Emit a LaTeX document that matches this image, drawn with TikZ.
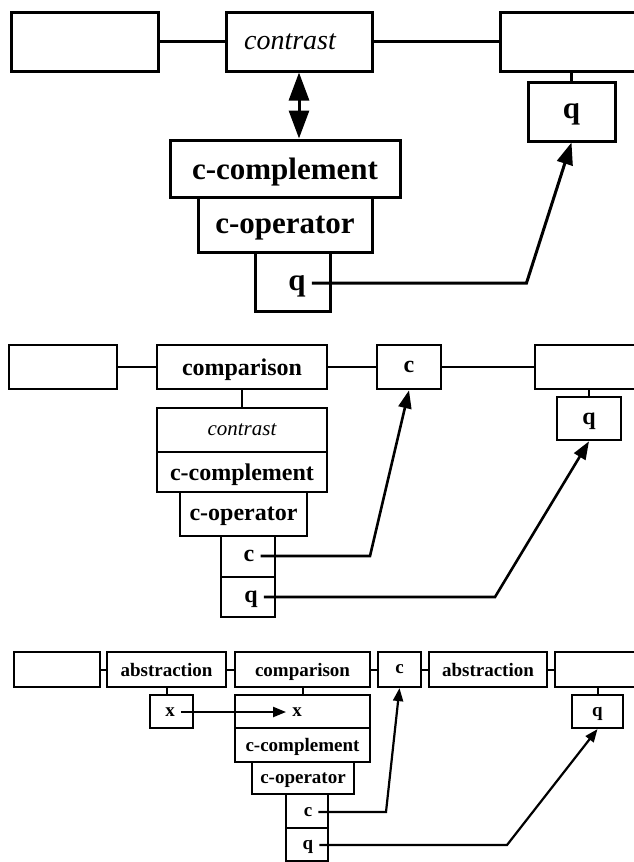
\documentclass[tikz,border=0pt]{standalone}
\usepackage{fontspec}
\setmainfont{Liberation Serif}
\usepackage{tikz}
\usetikzlibrary{arrows.meta}
\newcommand{\fsTop}{\fontsize{31}{33}\selectfont\bfseries}
\newcommand{\fsTopIt}{\fontsize{28}{30}\selectfont\mdseries\itshape}
\newcommand{\fsMid}{\fontsize{24}{26}\selectfont\bfseries}
\newcommand{\fsMidIt}{\fontsize{21}{23}\selectfont\mdseries\itshape}
\newcommand{\fsLow}{\fontsize{19}{21}\selectfont\bfseries}
\tikzstyle{topbox} = [rectangle, draw=black, fill=white, line width=3pt, inner sep=0pt, text depth=0pt, font=\fsTop]
\tikzstyle{midbox} = [rectangle, draw=black, fill=white, line width=2.6pt, inner sep=0pt, text depth=0pt, font=\fsMid]
\tikzstyle{lowbox} = [rectangle, draw=black, fill=white, line width=2.2pt, inner sep=0pt, text depth=0pt, font=\fsLow]
\tikzstyle{toplab} = [inner sep=6pt, text depth=0pt, font=\fsTop]
\tikzstyle{midlab} = [inner sep=6pt, text depth=0pt, font=\fsMid]
\tikzstyle{lowlab} = [inner sep=6pt, text depth=0pt, font=\fsLow]
\tikzstyle{link} = [line width=2.4pt]
\tikzstyle{lowlink} = [line width=2pt]
\tikzstyle{toparrow} = [line width=3pt, -{Triangle[length=22pt,width=16pt]}]
\tikzstyle{dblarrow} = [line width=3pt, {Triangle[length=28pt,width=20pt]}-{Triangle[length=28pt,width=20pt]}]
\tikzstyle{midarrow} = [line width=2.6pt, -{Triangle[length=18pt,width=13pt]}]
\tikzstyle{lowarrow} = [line width=2.2pt, -{Triangle[length=13pt,width=10pt]}]

\begin{document}
\begin{tikzpicture}[x=1pt, y=-1pt]
\useasboundingbox (0,0) rectangle (634,862);
\fill[white] (0,0) rectangle (634,862);
\clip (0,0) rectangle (634,862);

% top panel
\node (tL) [topbox, minimum width=147pt, minimum height=59pt] at (84.5,41.5) {};
\node (tcon) [topbox, minimum width=146pt, minimum height=59pt, font=\fsTopIt] at (299,41.5) {contrast\rule{18pt}{0pt}};
\node (tR) [topbox, minimum width=160pt, minimum height=59pt] at (580,41.5) {};
\node (tq) [topbox, minimum width=87pt, minimum height=59pt] at (571.5,111.5) {q};
\node (tcc) [topbox, minimum width=230pt, minimum height=57pt] at (285,168.5) {c-complement};
\node (tco) [topbox, minimum width=174pt, minimum height=55pt] at (285,224.5) {c-operator};
\node (tqcell) [topbox, minimum width=75pt, minimum height=59pt] at (292.5,281.5) {};
\node (tqlab) [toplab] at (297,283) {q};

\draw [link] (tL) -- (tcon);
\draw [link] (tcon) -- (tR);
\draw [link] (tq.north |- tR.south) -- (tq.north);
\draw [dblarrow] (tcon.south) -- (tcon.south |- tcc.north);
\draw [toparrow] (tqlab.east) -- (tqlab.east -| tq.west) -- (tq.south);

% middle panel
\node (mL) [midbox, minimum width=108pt, minimum height=44pt] at (63,367) {};
\node (mcmp) [midbox, minimum width=170pt, minimum height=44pt] at (242,367) {comparison};
\node (mc) [midbox, minimum width=64pt, minimum height=44pt] at (409,367) {c};
\node (mR) [midbox, minimum width=125pt, minimum height=44pt] at (597.5,367) {};
\node (mq) [midbox, minimum width=64pt, minimum height=43pt] at (589,418.5) {q};
\node (mcon) [midbox, minimum width=170pt, minimum height=44pt, font=\fsMidIt] at (242,430) {contrast};
\node (mcc) [midbox, minimum width=170pt, minimum height=40pt] at (242,472) {c-complement};
\node (mco) [midbox, minimum width=127pt, minimum height=44pt] at (243.5,514) {c-operator};
\node (mccell) [midbox, minimum width=54pt, minimum height=41pt] at (248,556.5) {};
\node (mqcell) [midbox, minimum width=54pt, minimum height=40pt] at (248,597) {};
\node (mclab) [midlab] at (249,556) {c};
\node (mqlab) [midlab] at (251,597) {q};
\coordinate (mcbend) at (370,556);
\coordinate (mqbend) at (495,597);

\draw [link] (mL) -- (mcmp);
\draw [link] (mcmp) -- (mc);
\draw [link] (mc) -- (mR);
\draw [link] (mcmp) -- (mcon);
\draw [link] (mq.north |- mR.south) -- (mq.north);
\draw [midarrow] (mclab.east) -- (mclab.east -| mcbend) -- (mc.south);
\draw [midarrow] (mqlab.east) -- (mqlab.east -| mqbend) -- (mq.south);

% bottom panel
\node (bL) [lowbox, minimum width=86pt, minimum height=35pt] at (57,669.5) {};
\node (babs) [lowbox, minimum width=119pt, minimum height=35pt] at (166.5,669.5) {abstraction};
\node (bcmp) [lowbox, minimum width=135pt, minimum height=35pt] at (302.5,669.5) {comparison};
\node (bc) [lowbox, minimum width=43pt, minimum height=35pt] at (399.5,669.5) {c};
\node (babs2) [lowbox, minimum width=118pt, minimum height=35pt] at (488,669.5) {abstraction};
\node (bR) [lowbox, minimum width=105pt, minimum height=35pt] at (607.5,669.5) {};
\node (bx) [lowbox, minimum width=43pt, minimum height=33pt] at (171.5,711.5) {};
\node (bxlab) [lowlab] at (170,712) {x};
\node (bxx) [lowbox, minimum width=135pt, minimum height=33pt] at (302.5,711.5) {};
\node (bxxlab) [lowlab] at (297,712) {x};
\node (bq) [lowbox, minimum width=51pt, minimum height=33pt] at (597.5,711.5) {q};
\node (bcc) [lowbox, minimum width=135pt, minimum height=34pt] at (302.5,745) {c-complement};
\node (bco) [lowbox, minimum width=102pt, minimum height=32pt] at (303,778) {c-operator};
\node (bccell) [lowbox, minimum width=42pt, minimum height=34pt] at (307,811) {};
\node (bqcell) [lowbox, minimum width=42pt, minimum height=33pt] at (307,844.5) {};
\node (bclab) [lowlab] at (308,812) {c};
\node (bqlab) [lowlab] at (308,845) {q};
\coordinate (bcbend) at (386,812);
\coordinate (bqbend) at (507,845);

\draw [lowlink] (bL) -- (babs);
\draw [lowlink] (babs) -- (bcmp);
\draw [lowlink] (bcmp) -- (bc);
\draw [lowlink] (bc) -- (babs2);
\draw [lowlink] (babs2) -- (bR);
\draw [lowlink] (babs.south) -- (babs.south |- bx.north);
\draw [lowlink] (bcmp) -- (bxx);
\draw [lowlink] (bq.north |- bR.south) -- (bq.north);
\draw [lowarrow] (bxlab.east) -- (bxxlab.west);
\draw [lowarrow] (bclab.east) -- (bclab.east -| bcbend) -- (bc.south);
\draw [lowarrow] (bqlab.east) -- (bqlab.east -| bqbend) -- (bq.south);

\end{tikzpicture}
\end{document}
